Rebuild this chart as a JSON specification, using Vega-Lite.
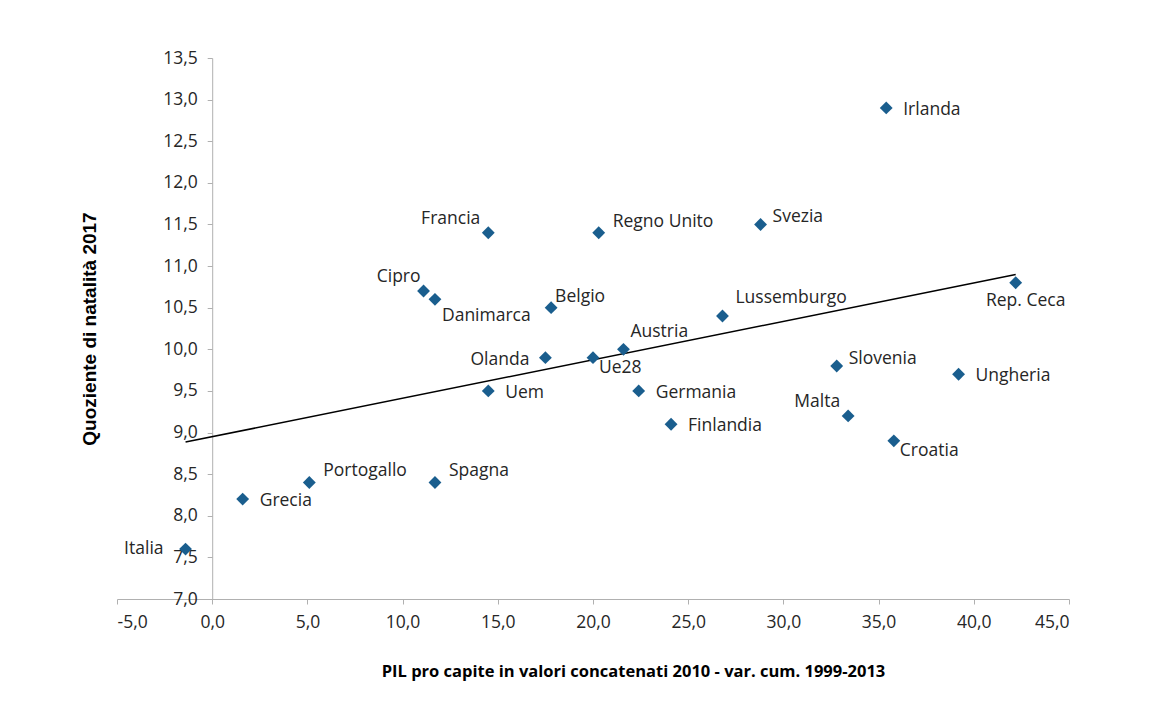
{
  "$schema": "https://vega.github.io/schema/vega-lite/v6.json",
  "autosize": "none",
  "width": 952,
  "height": 541,
  "padding": {"left": 117, "top": 58, "right": 84, "bottom": 123},
  "background": "#ffffff",
  "config": {
    "locale": {"number": {"decimal": ",", "thousands": ".", "grouping": [3], "currency": ["€", ""], "minus": "-"}},
    "view": {"stroke": null},
    "axis": {
      "grid": false,
      "domainColor": "#b0b0b0",
      "tickColor": "#b0b0b0",
      "tickSize": 5,
      "labelFont": "Open Sans",
      "labelFontSize": 17.5,
      "labelColor": "#262626",
      "titleColor": "#000000"
    },
    "text": {"font": "Open Sans", "fontSize": 17.5, "color": "#262626", "baseline": "middle"}
  },
  "datasets": {
    "paesi": [
      {"paese": "Irlanda", "pil": 35.4, "natalita": 12.9},
      {"paese": "Francia", "pil": 14.5, "natalita": 11.4},
      {"paese": "Regno Unito", "pil": 20.3, "natalita": 11.4},
      {"paese": "Svezia", "pil": 28.8, "natalita": 11.5},
      {"paese": "Cipro", "pil": 11.1, "natalita": 10.7},
      {"paese": "Danimarca", "pil": 11.7, "natalita": 10.6},
      {"paese": "Belgio", "pil": 17.8, "natalita": 10.5},
      {"paese": "Lussemburgo", "pil": 26.8, "natalita": 10.4},
      {"paese": "Austria", "pil": 21.6, "natalita": 10.0},
      {"paese": "Olanda", "pil": 17.5, "natalita": 9.9},
      {"paese": "Ue28", "pil": 20.0, "natalita": 9.9},
      {"paese": "Uem", "pil": 14.5, "natalita": 9.5},
      {"paese": "Germania", "pil": 22.4, "natalita": 9.5},
      {"paese": "Finlandia", "pil": 24.1, "natalita": 9.1},
      {"paese": "Rep. Ceca", "pil": 42.2, "natalita": 10.8},
      {"paese": "Slovenia", "pil": 32.8, "natalita": 9.8},
      {"paese": "Ungheria", "pil": 39.2, "natalita": 9.7},
      {"paese": "Malta", "pil": 33.4, "natalita": 9.2},
      {"paese": "Croatia", "pil": 35.8, "natalita": 8.9},
      {"paese": "Portogallo", "pil": 5.1, "natalita": 8.4},
      {"paese": "Spagna", "pil": 11.7, "natalita": 8.4},
      {"paese": "Grecia", "pil": 1.6, "natalita": 8.2},
      {"paese": "Italia", "pil": -1.4, "natalita": 7.6}
    ],
    "tendenza": [
      {"pil": -1.4, "natalita": 8.885},
      {"pil": 42.2, "natalita": 10.9}
    ]
  },
  "layer": [
    {
      "data": {"name": "tendenza"},
      "mark": {"type": "line", "color": "#000000", "strokeWidth": 1.5, "clip": false},
      "encoding": {
        "x": {
          "field": "pil", "type": "quantitative",
          "scale": {"domain": [-5, 45], "nice": false, "zero": false},
          "axis": {
            "values": [-5, 0, 5, 10, 15, 20, 25, 30, 35, 40, 45],
            "format": ".1f",
            "labelPadding": 9,
            "title": "PIL pro capite in valori concatenati 2010 - var. cum. 1999-2013",
            "titleFont": "Open Sans",
            "titleFontWeight": "bold",
            "titleFontSize": 16.5,
            "titleAnchor": "middle",
            "titleBaseline": "middle",
            "titleX": 516,
            "titleY": 72
          }
        },
        "y": {
          "field": "natalita", "type": "quantitative",
          "scale": {"domain": [7, 13.5], "nice": false, "zero": false},
          "axis": {
            "values": [7, 7.5, 8, 8.5, 9, 9.5, 10, 10.5, 11, 11.5, 12, 12.5, 13, 13.5],
            "format": ".1f",
            "offset": -95.2,
            "labelPadding": 10,
            "title": "Quoziente di natalità 2017",
            "titleFont": "Liberation Sans",
            "titleFontWeight": "bold",
            "titleFontSize": 19,
            "titlePadding": 63
          }
        }
      }
    },
    {
      "data": {"name": "paesi"},
      "encoding": {
        "x": {"field": "pil", "type": "quantitative"},
        "y": {"field": "natalita", "type": "quantitative"}
      },
      "layer": [
        {"mark": {"type": "point", "shape": "diamond", "filled": true, "size": 165, "color": "#1a5e8e", "opacity": 1}},
        {
          "encoding": {"text": {"field": "paese", "type": "nominal"}},
          "layer": [
            {"transform": [{"filter": {"field": "paese", "oneOf": ["Irlanda", "Uem", "Germania", "Finlandia", "Ungheria", "Grecia"]}}],
             "mark": {"type": "text", "align": "left", "dx": 17, "dy": 2}},
            {"transform": [{"filter": {"field": "paese", "oneOf": ["Regno Unito", "Portogallo", "Spagna"]}}],
             "mark": {"type": "text", "align": "left", "dx": 14, "dy": -11}},
            {"transform": [{"filter": {"field": "paese", "oneOf": ["Svezia", "Slovenia"]}}],
             "mark": {"type": "text", "align": "left", "dx": 12, "dy": -7}},
            {"transform": [{"filter": {"field": "paese", "equal": "Lussemburgo"}}],
             "mark": {"type": "text", "align": "left", "dx": 13, "dy": -18}},
            {"transform": [{"filter": {"field": "paese", "equal": "Austria"}}],
             "mark": {"type": "text", "align": "left", "dx": 7, "dy": -17}},
            {"transform": [{"filter": {"field": "paese", "equal": "Belgio"}}],
             "mark": {"type": "text", "align": "left", "dx": 4, "dy": -11}},
            {"transform": [{"filter": {"field": "paese", "equal": "Danimarca"}}],
             "mark": {"type": "text", "align": "left", "dx": 7, "dy": 17}},
            {"transform": [{"filter": {"field": "paese", "oneOf": ["Ue28", "Croatia"]}}],
             "mark": {"type": "text", "align": "left", "dx": 6, "dy": 10}},
            {"transform": [{"filter": {"field": "paese", "oneOf": ["Francia", "Malta"]}}],
             "mark": {"type": "text", "align": "right", "dx": -8, "dy": -14}},
            {"transform": [{"filter": {"field": "paese", "equal": "Cipro"}}],
             "mark": {"type": "text", "align": "right", "dx": -3, "dy": -14}},
            {"transform": [{"filter": {"field": "paese", "equal": "Olanda"}}],
             "mark": {"type": "text", "align": "right", "dx": -16, "dy": 2}},
            {"transform": [{"filter": {"field": "paese", "equal": "Italia"}}],
             "mark": {"type": "text", "align": "right", "dx": -22, "dy": 0}},
            {"transform": [{"filter": {"field": "paese", "equal": "Rep. Ceca"}}],
             "mark": {"type": "text", "align": "center", "dx": 10, "dy": 18}}
          ]
        }
      ]
    }
  ]
}
